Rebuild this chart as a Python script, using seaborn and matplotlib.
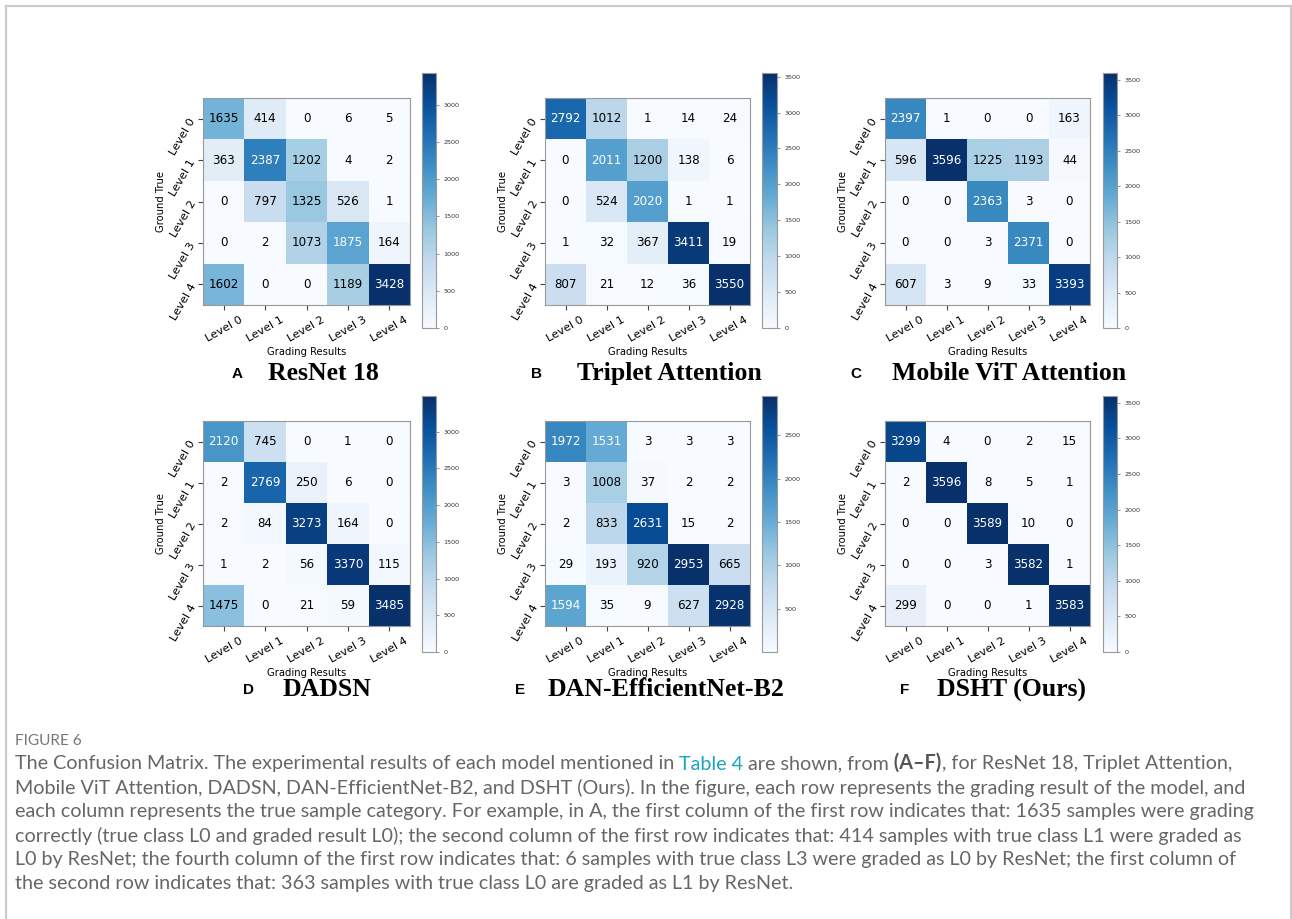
import numpy as np
import matplotlib
matplotlib.use("Agg")
import matplotlib.pyplot as plt
from matplotlib.lines import Line2D
import seaborn as sns

# ---------------- data ----------------
levels = ["Level 0", "Level 1", "Level 2", "Level 3", "Level 4"]

resnet18 = [[1635, 414, 0, 6, 5],
            [363, 2387, 1202, 4, 2],
            [0, 797, 1325, 526, 1],
            [0, 2, 1073, 1875, 164],
            [1602, 0, 0, 1189, 3428]]
triplet_attention = [[2792, 1012, 1, 14, 24],
                     [0, 2011, 1200, 138, 6],
                     [0, 524, 2020, 1, 1],
                     [1, 32, 367, 3411, 19],
                     [807, 21, 12, 36, 3550]]
mobile_vit = [[2397, 1, 0, 0, 163],
              [596, 3596, 1225, 1193, 44],
              [0, 0, 2363, 3, 0],
              [0, 0, 3, 2371, 0],
              [607, 3, 9, 33, 3393]]
dadsn = [[2120, 745, 0, 1, 0],
         [2, 2769, 250, 6, 0],
         [2, 84, 3273, 164, 0],
         [1, 2, 56, 3370, 115],
         [1475, 0, 21, 59, 3485]]
dan_efficientnet = [[1972, 1531, 3, 3, 3],
                    [3, 1008, 37, 2, 2],
                    [2, 833, 2631, 15, 2],
                    [29, 193, 920, 2953, 665],
                    [1594, 35, 9, 627, 2928]]
dsht = [[3299, 4, 0, 2, 15],
        [2, 3596, 8, 5, 1],
        [0, 0, 3589, 10, 0],
        [0, 0, 3, 3582, 1],
        [299, 0, 0, 1, 3583]]

matrices = [resnet18, triplet_attention, mobile_vit, dadsn, dan_efficientnet, dsht]
panel_letters = ["A", "B", "C", "D", "E", "F"]
panel_titles = ["ResNet 18", "Triplet Attention", "Mobile ViT Attention",
                "DADSN", "DAN-EfficientNet-B2", "DSHT (Ours)"]

caption_head = "FIGURE 6"
caption_line1 = ["The Confusion Matrix. The experimental results of each model mentioned in",
                 " Table 4", " are shown, from", " (A\u2013F)", ", for ResNet 18, Triplet Attention,"]
caption_lines = [
    "Mobile ViT Attention, DADSN, DAN-EfficientNet-B2, and DSHT (Ours). In the figure, each row represents the grading result of the model, and",
    "each column represents the true sample category. For example, in A, the first column of the first row indicates that: 1635 samples were grading",
    "correctly (true class L0 and graded result L0); the second column of the first row indicates that: 414 samples with true class L1 were graded as",
    "L0 by ResNet; the fourth column of the first row indicates that: 6 samples with true class L3 were graded as L0 by ResNet; the first column of",
    "the second row indicates that: 363 samples with true class L0 are graded as L1 by ResNet.",
]

# ---------------- layout ----------------
W, H = 1292, 919
fig = plt.figure(figsize=(W / 100, H / 100), dpi=100)
fig.patch.set_facecolor("white")


def rect(x0, y0, x1, y1):
    return [x0 / W, 1 - y1 / H, (x1 - x0) / W, (y1 - y0) / H]


hm_x = [(203, 410), (545, 750), (885, 1090)]
cb_x = [(422, 436), (762, 777), (1103, 1117)]
hm_y = [(98, 305), (421, 626)]
cb_y = [(73, 328), (396, 652)]
title_y = [374, 690]
letter_x = [237, 537, 856, 248, 520, 905]
title_x = [268, 577, 892, 283, 548, 937]

for i, data in enumerate(matrices):
    r, c = divmod(i, 3)
    arr = np.array(data)
    ax = fig.add_axes(rect(hm_x[c][0], hm_y[r][0], hm_x[c][1], hm_y[r][1]))
    cax = fig.add_axes(rect(cb_x[c][0], cb_y[r][0], cb_x[c][1], cb_y[r][1]))
    sns.heatmap(arr, ax=ax, cbar_ax=cax, cmap="Blues", annot=True, fmt="d",
                annot_kws={"size": 8.6}, xticklabels=levels, yticklabels=levels)
    thresh = arr.max() / 2.0
    for t in ax.texts:
        x, y = t.get_position()
        v = arr[int(y), int(x)]
        t.set_color("white" if v > thresh else "black")
    ax.tick_params(axis="both", length=3.5, width=0.8, labelsize=8.2, color="#444444")
    for lab in ax.get_xticklabels():
        lab.set_rotation(30)
        lab.set_ha("center")
    for lab in ax.get_yticklabels():
        lab.set_rotation(60)
        lab.set_ha("right")
        lab.set_va("center")
        lab.set_rotation_mode("anchor")
    ax.set_xlabel("Grading Results", fontsize=7.2, labelpad=2)
    ax.set_ylabel("Ground True", fontsize=7.2, labelpad=2)
    for s in ax.spines.values():
        s.set_visible(True)
        s.set_color("#999999")
        s.set_linewidth(0.8)
    cb = ax.collections[0].colorbar
    cb.outline.set_edgecolor("#999999")
    cb.outline.set_linewidth(0.8)
    cax.tick_params(labelsize=4.6, length=2, width=0.5, color="#666666", labelcolor="#333333")

    ty = 1 - title_y[r] / H
    fig.text(letter_x[i] / W, ty, panel_letters[i], fontsize=11, fontweight="bold",
             family="Liberation Sans", ha="center", va="center")
    fig.text(title_x[i] / W, ty, panel_titles[i], fontsize=18.5, fontweight="bold",
             family="Liberation Serif", ha="left", va="center")

# ---------------- caption ----------------
cap = fig.add_axes([0, 0, 1, 1])
cap.set_axis_off()
cap.set_xlim(0, W)
cap.set_ylim(H, 0)

# frame
for (xs, ys) in [((6, 6), (H + 5, 6)), ((6, 1291), (6, 6)), ((1291, 1291), (6, H + 5))]:
    cap.add_line(Line2D(xs, ys, color="#cccccc", linewidth=1.6, clip_on=False))

cap_font = "Lato"
cap_color = "#666666"
fig.canvas.draw()
renderer = fig.canvas.get_renderer()
probe = cap.text(15, 500, caption_lines[1], fontsize=12, family=cap_font)
w = probe.get_window_extent(renderer).width
probe.remove()
fs = 12 * (1252 - 15) / w

cap.text(15, 741, caption_head, fontsize=fs * 0.78, family=cap_font, color="#777777",
         ha="left", va="center")

line_y = [764 + 24 * k for k in range(6)]
prev = cap.text(15, line_y[0], caption_line1[0], fontsize=fs, family=cap_font,
                color=cap_color, ha="left", va="center")
styles = [None, ("#1aa3c4", "normal"), (cap_color, "normal"), ("#555555", "bold"),
          (cap_color, "normal")]
for piece, (col, wt) in zip(caption_line1[1:], styles[1:]):
    prev = cap.annotate(piece, xy=(1, 0), xycoords=prev, ha="left", va="bottom",
                        fontsize=fs, family=cap_font, color=col, fontweight=wt)
for k, line in enumerate(caption_lines):
    cap.text(15, line_y[k + 1], line, fontsize=fs, family=cap_font, color=cap_color,
             ha="left", va="center")

fig.savefig("out.png", dpi=100, facecolor="white")
